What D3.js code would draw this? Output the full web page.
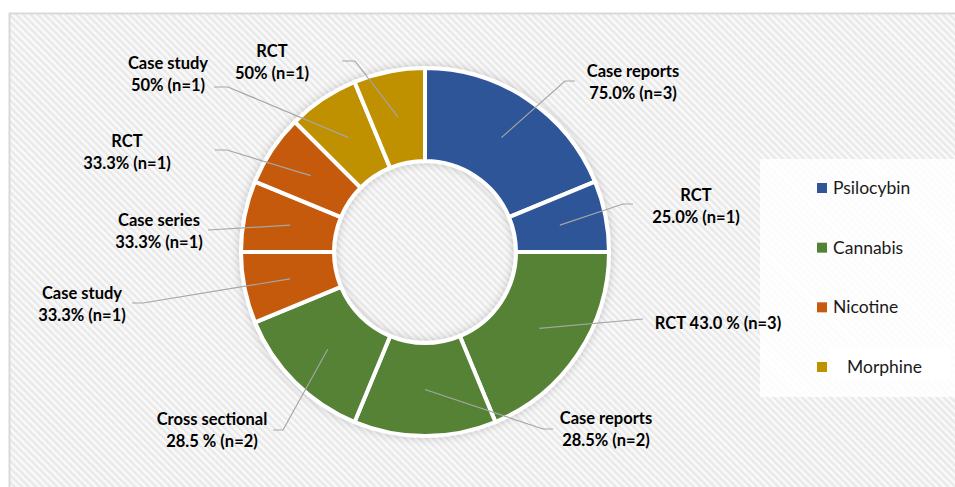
<!DOCTYPE html>
<html>
<head>
<meta charset="utf-8">
<script src="https://cdn.jsdelivr.net/npm/d3@7"></script>
<style>
  html, body { margin: 0; padding: 0; background: #ffffff; }
  svg { display: block; }
</style>
</head>
<body>
<div id="chart"></div>
<script>
// Substances (legend order)
const drugs = ["Psilocybin", "Cannabis", "Nicotine", "Morphine"];

// Study-type segments, clockwise from 12 o'clock
const studyTypes = ["Case reports", "RCT", "RCT", "Case reports", "Cross sectional",
                    "Case study", "Case series", "RCT", "Case study", "RCT"];
const studyDrug = ["Psilocybin", "Psilocybin", "Cannabis", "Cannabis", "Cannabis",
                   "Nicotine", "Nicotine", "Nicotine", "Morphine", "Morphine"];
const studyCounts = [3, 1, 3, 2, 2, 1, 1, 1, 1, 1];
const studyPercents = ["75.0%", "25.0%", "43.0 %", "28.5%", "28.5 %",
                       "33.3%", "33.3%", "33.3%", "50%", "50%"];

const width = 955;
const height = 487;
const cx = 425;
const cy = 252;
const outerR = 184;
const innerR = 91;

const colorScale = d3.scaleOrdinal()
    .domain(drugs)
    .range(["#2f5597", "#548235", "#c55a11", "#bf9000"]);

// Manual placement of the data labels (like the hand-moved labels in the source)
// x, y = text centre / first baseline, elbow + end = leader line path
const labelLayout = [
    {x: 633, y: 77,  elbow: [565, 81],  end: [575, 81]},
    {x: 696, y: 201, elbow: [623, 204], end: [633, 204]},
    {x: 718, y: 329, elbow: [643, 319], end: [643, 319], oneLine: true},
    {x: 606, y: 424, elbow: [543, 429], end: [553, 429]},
    {x: 212, y: 425, elbow: [283, 430], end: [273, 430]},
    {x: 82,  y: 299, elbow: [143, 303], end: [132, 303]},
    {x: 159, y: 226, elbow: [208, 230], end: [208, 230]},
    {x: 127, y: 147, elbow: [227, 150], end: [215, 150]},
    {x: 168, y: 69,  elbow: [228, 87],  end: [214, 87]},
    {x: 272, y: 57,  elbow: [355, 61],  end: [342, 61]}
];

const segments = studyTypes.map((t, i) => ({
    type: t,
    drug: studyDrug[i],
    count: studyCounts[i],
    pct: studyPercents[i],
    layout: labelLayout[i]
}));

const svg = d3.select("#chart")
    .append("svg")
    .attr("width", width)
    .attr("height", height);

const defs = svg.append("defs");

// Diagonal hatch used by the chart area
const hatch = defs.append("pattern")
    .attr("id", "hatch")
    .attr("patternUnits", "userSpaceOnUse")
    .attr("width", 5)
    .attr("height", 5)
    .attr("patternTransform", "rotate(-45)");
hatch.append("rect")
    .attr("width", 5).attr("height", 5)
    .attr("fill", "#fafafa");
hatch.append("rect")
    .attr("width", 2.5).attr("height", 5)
    .attr("fill", "#e9e9e9");

// Soft shadow under the ring
const shadow = defs.append("filter")
    .attr("id", "ring-shadow")
    .attr("x", "-20%").attr("y", "-20%")
    .attr("width", "140%").attr("height", "140%");
shadow.append("feDropShadow")
    .attr("dx", 0).attr("dy", 0)
    .attr("stdDeviation", 4)
    .attr("flood-color", "#000")
    .attr("flood-opacity", 0.2);

// Chart area
svg.append("rect")
    .attr("x", 9.5).attr("y", 13.5)
    .attr("width", width).attr("height", height)
    .attr("fill", "url(#hatch)")
    .attr("stroke", "#d9d9d9")
    .attr("stroke-width", 2);

// Legend panel
svg.append("rect")
    .attr("x", 760).attr("y", 159)
    .attr("width", 200).attr("height", 238)
    .attr("fill", "#ffffff")
    .attr("opacity", 0.85);

// Donut
const pie = d3.pie()
    .sort(null)
    .value(d => d.count);

const arc = d3.arc()
    .innerRadius(innerR)
    .outerRadius(outerR);

const arcs = pie(segments);

const g = svg.append("g")
    .attr("transform", `translate(${cx},${cy})`);

g.append("g")
    .attr("filter", "url(#ring-shadow)")
    .selectAll("path")
    .data(arcs)
    .enter().append("path")
    .attr("d", arc)
    .attr("fill", d => colorScale(d.data.drug))
    .attr("stroke", "#ffffff")
    .attr("stroke-width", 4)
    .attr("stroke-linejoin", "miter");

// Leader lines, from the slice centroid to the label
svg.append("g")
    .selectAll("polyline")
    .data(arcs)
    .enter().append("polyline")
    .attr("points", d => {
        const c = arc.centroid(d);
        const L = d.data.layout;
        return [[cx + c[0], cy + c[1]], L.elbow, L.end].map(p => p.join(",")).join(" ");
    })
    .attr("fill", "none")
    .attr("stroke", "#a6a6a6")
    .attr("stroke-width", 1.2);

// Data labels
const labels = svg.append("g")
    .attr("font-family", "Lato, 'Open Sans', sans-serif")
    .attr("font-weight", "bold")
    .attr("font-size", "16.5px")
    .attr("fill", "#000000")
    .attr("text-anchor", "middle")
    .selectAll("text")
    .data(arcs)
    .enter().append("text")
    .attr("x", d => d.data.layout.x)
    .attr("y", d => d.data.layout.y);

labels.each(function(d) {
    const t = d3.select(this);
    const second = `${d.data.pct} (n=${d.data.count})`;
    if (d.data.layout.oneLine) {
        t.text(`${d.data.type} ${second}`);
    } else {
        t.append("tspan")
            .attr("x", d.data.layout.x)
            .text(d.data.type);
        t.append("tspan")
            .attr("x", d.data.layout.x)
            .attr("dy", 22)
            .text(second);
    }
});

// Legend
const legendY = d3.scalePoint()
    .domain(drugs)
    .range([188, 367]);

const legend = svg.append("g")
    .attr("font-family", "Lato, 'Open Sans', sans-serif")
    .attr("font-size", "17.5px")
    .attr("fill", "#1a1a1a");

const item = legend.selectAll("g")
    .data(drugs)
    .enter().append("g")
    .attr("transform", d => `translate(817,${legendY(d)})`);

item.filter(d => d === "Morphine")
    .append("rect")
    .attr("x", 13).attr("y", -20)
    .attr("width", 120).attr("height", 33)
    .attr("fill", "#ffffff");

item.append("rect")
    .attr("x", 0).attr("y", -5)
    .attr("width", 10).attr("height", 10)
    .attr("fill", d => colorScale(d));

item.append("text")
    .attr("x", d => d === "Morphine" ? 30 : 16)
    .attr("y", 6)
    .text(d => d);
</script>
</body>
</html>
